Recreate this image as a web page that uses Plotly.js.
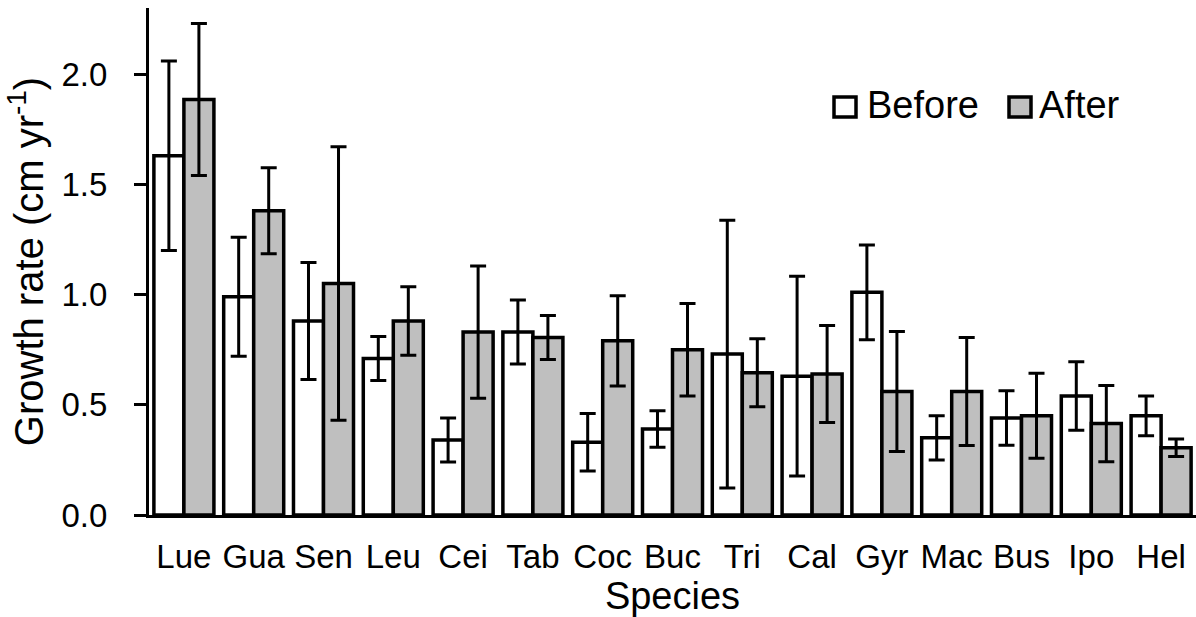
<!DOCTYPE html>
<html>
<head>
<meta charset="utf-8">
<script src="https://cdn.plot.ly/plotly-3.0.1.min.js"></script>
<style>html,body{margin:0;padding:0;background:#fff;}#chart{width:1196px;height:617px;}</style>
</head>
<body>
<div id="chart"></div>
<script>
const species = ["Lue","Gua","Sen","Leu","Cei","Tab","Coc","Buc","Tri","Cal","Gyr","Mac","Bus","Ipo","Hel"];
const beforeVals = [1.63,0.99,0.88,0.71,0.34,0.83,0.33,0.39,0.73,0.63,1.01,0.35,0.44,0.54,0.45];
const beforeErr  = [0.43,0.27,0.265,0.10,0.10,0.145,0.13,0.083,0.607,0.453,0.215,0.10,0.124,0.155,0.09];
const afterVals  = [1.885,1.38,1.05,0.88,0.83,0.805,0.79,0.75,0.645,0.64,0.56,0.56,0.45,0.415,0.305];
const afterErr   = [0.345,0.195,0.62,0.155,0.30,0.10,0.205,0.21,0.154,0.22,0.272,0.245,0.193,0.173,0.04];
const seriesNames = ["Before","After"];
const yTicks = [0,0.5,1.0,1.5,2.0];
const yTickText = ["0.0","0.5","1.0","1.5","2.0"];

const FONT = "Liberation Sans, Arial, Helvetica, sans-serif";
const fills = ["#ffffff","#bfbfbf"];

const errStyle = {type:"data", visible:true, color:"#000", thickness:3, width:8};
const traces = [
  {type:"bar", name:seriesNames[0], x:species, y:beforeVals,
   marker:{color:fills[0], line:{color:"#000", width:3.5}},
   error_y:Object.assign({array:beforeErr}, errStyle), hoverinfo:"x+y"},
  {type:"bar", name:seriesNames[1], x:species, y:afterVals,
   marker:{color:fills[1], line:{color:"#000", width:3.5}},
   error_y:Object.assign({array:afterErr}, errStyle), hoverinfo:"x+y"}
];

const layout = {
  width:1196, height:617,
  margin:{l:149, r:0, t:8, b:102, pad:0},
  paper_bgcolor:"#fff", plot_bgcolor:"#fff",
  font:{family:FONT, color:"#000", size:33},
  barmode:"group", bargap:0.14, bargroupgap:0,
  showlegend:false,
  xaxis:{
    type:"category", range:[-0.5,14.5],
    showline:true, linecolor:"#000", linewidth:3,
    ticks:"", showgrid:false, zeroline:false,
    tickfont:{size:33, family:FONT, color:"#000"},
    ticklabelstandoff:10,
    title:{text:"Species", font:{size:38, family:FONT, color:"#000"}, standoff:4}
  },
  yaxis:{
    range:[0,2.3], tickvals:yTicks, ticktext:yTickText,
    showline:true, linecolor:"#000", linewidth:3,
    ticks:"outside", ticklen:12, tickwidth:3, tickcolor:"#000",
    showgrid:false, zeroline:false,
    tickfont:{size:33, family:FONT, color:"#000"},
    ticklabelstandoff:20,
    title:{text:"Growth rate (cm yr<sup>-1</sup>)", font:{size:40, family:FONT, color:"#000"}, standoff:6}
  },
  shapes:[
    {type:"rect", xref:"paper", yref:"paper", x0:(834-149)/1047, x1:(856-149)/1047, y0:(515-117)/507, y1:(515-97)/507,
     fillcolor:fills[0], line:{color:"#000", width:3.5}},
    {type:"rect", xref:"paper", yref:"paper", x0:(1009-149)/1047, x1:(1031-149)/1047, y0:(515-117)/507, y1:(515-97)/507,
     fillcolor:fills[1], line:{color:"#000", width:3.5}}
  ],
  annotations:[
    {xref:"paper", yref:"paper", x:(865-149)/1047, y:(515-105)/507, xanchor:"left", yanchor:"middle",
     text:seriesNames[0], showarrow:false, font:{size:38, family:FONT, color:"#000"}},
    {xref:"paper", yref:"paper", x:(1037-149)/1047, y:(515-105)/507, xanchor:"left", yanchor:"middle",
     text:seriesNames[1], showarrow:false, font:{size:38, family:FONT, color:"#000"}}
  ]
};

Plotly.newPlot("chart", traces, layout, {displayModeBar:false, staticPlot:true});
</script>
</body>
</html>
